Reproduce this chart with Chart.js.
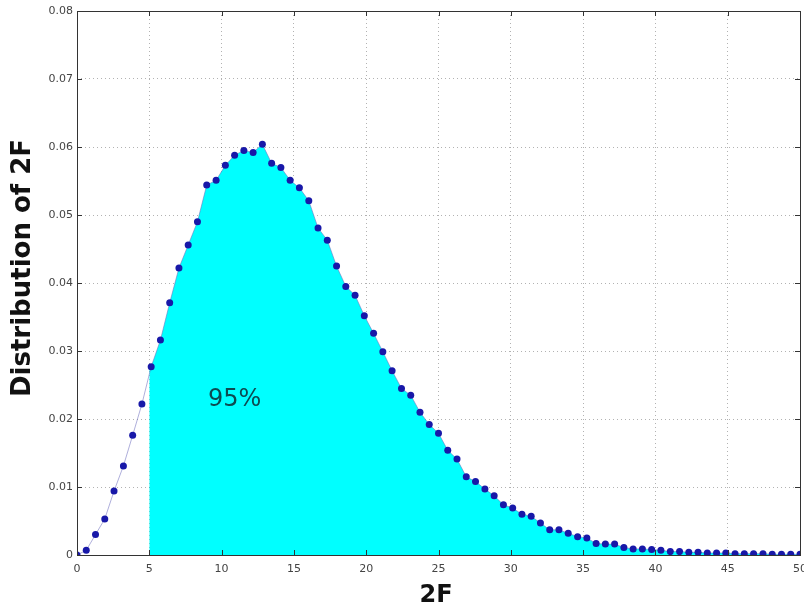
<!DOCTYPE html>
<html>
<head>
<meta charset="utf-8">
<script src="https://cdn.jsdelivr.net/npm/chart.js@4.4.0/dist/chart.umd.min.js"></script>
<style>
html, body { margin: 0; padding: 0; background: #fff; }
#wrap { width: 804px; height: 608px; }
</style>
</head>
<body>
<div id="wrap"><canvas id="myChart" width="804" height="608"></canvas></div>
<script>
// values of 2F (bin positions) and the estimated distribution
const xValues = [0, 0.64, 1.28, 1.92, 2.56, 3.21, 3.85, 4.49, 5.13, 5.77,
  6.41, 7.05, 7.69, 8.33, 8.97, 9.62, 10.26, 10.90, 11.54, 12.18,
  12.82, 13.46, 14.10, 14.74, 15.38, 16.03, 16.67, 17.31, 17.95, 18.59,
  19.23, 19.87, 20.51, 21.15, 21.79, 22.44, 23.08, 23.72, 24.36, 25.00,
  25.64, 26.28, 26.92, 27.56, 28.21, 28.85, 29.49, 30.13, 30.77, 31.41,
  32.05, 32.69, 33.33, 33.97, 34.62, 35.26, 35.90, 36.54, 37.18, 37.82,
  38.46, 39.10, 39.74, 40.38, 41.03, 41.67, 42.31, 42.95, 43.59, 44.23,
  44.87, 45.51, 46.15, 46.79, 47.44, 48.08, 48.72, 49.36, 50.00];
const density = [0, 0.0007, 0.0030, 0.0053, 0.0094, 0.0131, 0.0176, 0.0222, 0.0277, 0.0316,
  0.0371, 0.0422, 0.0456, 0.0490, 0.0544, 0.0551, 0.0573, 0.0588, 0.0595, 0.0592,
  0.0604, 0.0576, 0.0570, 0.0551, 0.0540, 0.0521, 0.0481, 0.0463, 0.0425, 0.0395,
  0.0382, 0.0352, 0.0326, 0.0299, 0.0271, 0.0245, 0.0235, 0.0210, 0.0192, 0.0179,
  0.0154, 0.0141, 0.0115, 0.0108, 0.0097, 0.0087, 0.0074, 0.0069, 0.0060, 0.0057,
  0.0047, 0.0037, 0.0037, 0.0032, 0.0027, 0.0025, 0.0017, 0.0016, 0.0016, 0.0011,
  0.0009, 0.0009, 0.0008, 0.0007, 0.0005, 0.0005, 0.0004, 0.0004, 0.0003, 0.0003,
  0.0003, 0.0002, 0.0002, 0.0002, 0.0002, 0.0001, 0.0001, 0.0001, 0.0001];

const xTicks = [0, 5, 10, 15, 20, 25, 30, 35, 40, 45, 50];
const yTicks = [0, 0.01, 0.02, 0.03, 0.04, 0.05, 0.06, 0.07, 0.08];

// shaded 95% region starts at 2F = 5
const cutX = 5;
const cutY = 0.0272;
const areaText = '95%';
const areaTextX = 10.9;
const areaTextY = 0.0228;

const xTitle = '2F';
const yTitle = 'Distribution of 2F';

const points = xValues.map((x, i) => ({ x: x, y: density[i] }));
const shaded = [{ x: cutX, y: cutY }].concat(points.filter(p => p.x >= cutX));

const frame = {
  id: 'frame',
  afterDraw(chart) {
    const c = chart.ctx, a = chart.chartArea;
    const xs = chart.scales.x, ys = chart.scales.y;
    c.save();
    c.strokeStyle = '#333';
    c.lineWidth = 1;
    c.strokeRect(Math.round(a.left) + 0.5, Math.round(a.top) + 0.5,
      Math.round(a.right - a.left), Math.round(a.bottom - a.top));
    c.beginPath();
    xTicks.forEach(v => {
      const px = Math.round(xs.getPixelForValue(v)) + 0.5;
      c.moveTo(px, a.bottom); c.lineTo(px, a.bottom - 5);
      c.moveTo(px, a.top); c.lineTo(px, a.top + 5);
    });
    yTicks.forEach(v => {
      const py = Math.round(ys.getPixelForValue(v)) + 0.5;
      c.moveTo(a.left, py); c.lineTo(a.left + 5, py);
      c.moveTo(a.right, py); c.lineTo(a.right - 5, py);
    });
    c.stroke();

    // text
    c.fillStyle = '#0d4b52';
    c.font = '24px "DejaVu Sans"';
    c.textAlign = 'center';
    c.textBaseline = 'middle';
    c.fillText(areaText, xs.getPixelForValue(areaTextX), ys.getPixelForValue(areaTextY));

    c.fillStyle = '#111';
    c.font = 'bold 24px "DejaVu Sans"';
    c.fillText(xTitle, 436, 596);

    c.translate(23, 268);
    c.rotate(-Math.PI / 2);
    c.font = 'bold 26px "DejaVu Sans"';
    c.fillText(yTitle, 0, 0);
    c.restore();
  }
};

const ctx = document.getElementById('myChart').getContext('2d');
const myChart = new Chart(ctx, {
  type: 'scatter',
  data: {
    datasets: [{
      data: points,
      showLine: true,
      borderColor: 'rgba(110,110,190,0.55)',
      borderWidth: 1,
      pointRadius: 3.5,
      pointBackgroundColor: '#1818a8',
      pointBorderWidth: 0,
      fill: false
    }, {
      data: shaded,
      showLine: true,
      borderWidth: 0,
      borderColor: 'rgba(0,0,0,0)',
      backgroundColor: '#00ffff',
      pointRadius: 0,
      fill: 'origin'
    }]
  },
  options: {
    responsive: false,
    animation: false,
    layout: { padding: { top: 11, right: 4, left: 0, bottom: 0 } },
    plugins: { legend: { display: false }, tooltip: { enabled: false } },
    scales: {
      x: {
        type: 'linear',
        min: 0,
        max: 50,
        afterBuildTicks: s => { s.ticks = xTicks.map(v => ({ value: v })); },
        afterFit: s => { s.height = 53; s.paddingLeft = 0; s.paddingRight = 0; },
        grid: { color: 'rgba(0,0,0,0.3)', drawTicks: false },
        border: { display: false, dash: [1, 3] },
        ticks: {
          padding: 8,
          color: '#444',
          font: { family: 'DejaVu Sans', size: 11 },
          maxRotation: 0,
          callback: v => String(v)
        }
      },
      y: {
        type: 'linear',
        min: 0,
        max: 0.08,
        afterBuildTicks: s => { s.ticks = yTicks.map(v => ({ value: v })); },
        afterFit: s => { s.width = 77; s.paddingTop = 0; s.paddingBottom = 0; },
        grid: { color: 'rgba(0,0,0,0.3)', drawTicks: false },
        border: { display: false, dash: [1, 3] },
        ticks: {
          padding: 4,
          color: '#444',
          font: { family: 'DejaVu Sans', size: 11 },
          callback: v => (v === 0 ? '0' : v.toFixed(2))
        }
      }
    }
  },
  plugins: [frame]
});
</script>
</body>
</html>
